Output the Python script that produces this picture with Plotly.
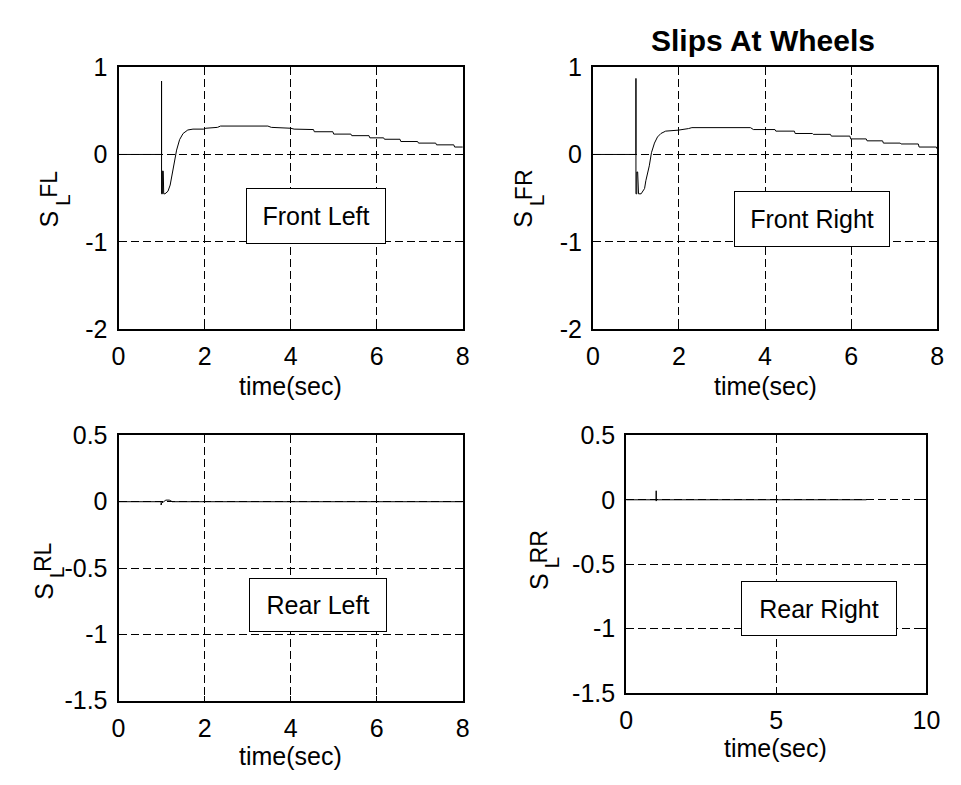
import plotly.graph_objects as go

W, H = 961, 785

# ---- data -------------------------------------------------------------
t_fl = [0, 1.0, 1.0, 1.0, 1.02, 1.02, 1.04, 1.05, 1.08, 1.15, 1.20, 1.25, 1.30,
        1.35, 1.42, 1.50, 1.61, 1.73, 1.98, 2.03, 2.30, 2.37, 3.47, 3.55, 4.00,
        4.08, 4.53, 4.55, 4.98, 5.00, 5.40, 5.42, 5.82, 5.84, 6.16, 6.18, 6.54,
        6.56, 6.95, 6.97, 7.37, 7.39, 7.79, 7.81, 8.0]
s_fl = [0, 0, 0.84, -0.45, -0.45, -0.19, -0.19, -0.45, -0.45, -0.42, -0.35, -0.20, -0.06,
        0.05, 0.17, 0.24, 0.28, 0.29, 0.29, 0.30, 0.31, 0.325, 0.325, 0.31, 0.30,
        0.29, 0.285, 0.26, 0.26, 0.233, 0.233, 0.215, 0.215, 0.19, 0.19, 0.174, 0.174,
        0.148, 0.148, 0.13, 0.13, 0.11, 0.11, 0.085, 0.085]

t_fr = [0, 1.0, 1.0, 1.0, 1.02, 1.02, 1.04, 1.06, 1.12, 1.20, 1.23, 1.31, 1.36,
        1.43, 1.50, 1.58, 1.69, 1.98, 2.22, 2.30, 3.66, 3.73, 4.23, 4.25, 4.68,
        4.70, 5.10, 5.12, 5.52, 5.54, 5.97, 5.99, 6.35, 6.37, 6.73, 6.75, 7.14,
        7.16, 7.56, 7.58, 7.98, 8.0]
s_fr = [0, 0, 0.87, -0.45, -0.45, -0.2, -0.2, -0.45, -0.45, -0.39, -0.30, -0.13, 0.02,
        0.13, 0.20, 0.24, 0.267, 0.278, 0.296, 0.307, 0.307, 0.285, 0.285, 0.267, 0.267,
        0.24, 0.24, 0.23, 0.23, 0.21, 0.21, 0.178, 0.178, 0.156, 0.156, 0.13, 0.13,
        0.12, 0.12, 0.085, 0.085, 0.063]

t_rl = [0, 0.99, 0.99, 1.0, 1.05, 1.10, 1.18, 1.25, 8.0]
s_rl = [0, 0, -0.025, -0.01, 0.0, 0.012, 0.012, 0.0, 0.0]

t_rr = [0, 1.0, 1.0, 1.0, 1.01, 8.0]
s_rr = [0, 0, 0.07, -0.01, 0, 0]

# tick positions / labels
xt_8 = [0, 2, 4, 6, 8]
xt_8_lbl = ["0", "2", "4", "6", "8"]
xt_10 = [0, 5, 10]
xt_10_lbl = ["0", "5", "10"]
yt_top = [-2, -1, 0, 1]
yt_top_lbl = ["-2", "-1", "0", "1"]
yt_bot = [-1.5, -1, -0.5, 0, 0.5]
yt_bot_lbl = ["-1.5", "-1", "-0.5", "0", "0.5"]

FONT = "Liberation Sans, Arial, Helvetica, sans-serif"
FS = 25


def fx(p):
    return p / W


def fy(p):
    return 1 - p / H


def axis_style(rng, vals, labels, domain, anchor):
    return dict(
        range=rng, domain=domain, anchor=anchor,
        tickvals=vals, ticktext=labels,
        showline=True, linecolor="black", linewidth=2, mirror="ticks",
        ticks="inside", ticklen=5, tickcolor="black", tickwidth=1,
        showgrid=True, gridcolor="black", gridwidth=1, griddash="8px,4px",
        zeroline=False, tickfont=dict(family=FONT, size=FS, color="black"),
        ticklabelstandoff=4, fixedrange=True,
    )


fig = go.Figure()
line = dict(color="black", width=1)
fig.add_trace(go.Scatter(x=t_fl, y=s_fl, mode="lines", line=line, xaxis="x", yaxis="y"))
fig.add_trace(go.Scatter(x=t_fr, y=s_fr, mode="lines", line=line, xaxis="x2", yaxis="y2"))
fig.add_trace(go.Scatter(x=t_rl, y=s_rl, mode="lines", line=line, xaxis="x3", yaxis="y3"))
fig.add_trace(go.Scatter(x=t_rr, y=s_rr, mode="lines", line=line, xaxis="x4", yaxis="y4"))

# axes boxes (pixel positions converted to paper fractions)
top_y = [fy(327), fy(55)]
bot_y_l = [fy(712), fy(437)]
bot_y_r = [fy(704), fy(437)]
left_x = [fx(114), fx(466)]
right_x = [fx(599), fx(951)]
br_x = [fx(633), fx(940)]

fig.update_layout(
    width=W, height=H, autosize=False,
    margin=dict(l=0, r=0, t=0, b=0),
    paper_bgcolor="white", plot_bgcolor="white",
    showlegend=False,
    font=dict(family=FONT, size=FS, color="black"),
    xaxis=axis_style([0, 8], xt_8, xt_8_lbl, left_x, "y"),
    yaxis=axis_style([-2, 1], yt_top, yt_top_lbl, top_y, "x"),
    xaxis2=axis_style([0, 8], xt_8, xt_8_lbl, right_x, "y2"),
    yaxis2=axis_style([-2, 1], yt_top, yt_top_lbl, top_y, "x2"),
    xaxis3=axis_style([0, 8], xt_8, xt_8_lbl, left_x, "y3"),
    yaxis3=axis_style([-1.5, 0.5], yt_bot, yt_bot_lbl, bot_y_l, "x3"),
    xaxis4=axis_style([0, 10], xt_10, xt_10_lbl, br_x, "y4"),
    yaxis4=axis_style([-1.5, 0.5], yt_bot, yt_bot_lbl, bot_y_r, "x4"),
)

ann = []


def text(x, y, s, size=FS, **kw):
    d = dict(x=fx(x), y=fy(y), xref="paper", yref="paper", text=s, showarrow=False,
             xanchor="center", yanchor="middle",
             font=dict(family=FONT, size=size, color="black"))
    d.update(kw)
    ann.append(d)


def ylabel(x, y, sup):
    # S with subscript L and a raised wheel tag, written bottom-to-top
    text(x, y + 21, "S", textangle=-90)
    text(x + 13, y + 1, "L", size=21, textangle=-90)
    text(x, y - 15, sup, size=23, textangle=-90)


# title
text(773, 27, "<b>Slips At Wheels</b>", size=30)

# x labels
text(290, 386, "time(sec)")
text(775, 386, "time(sec)")
text(290, 769, "time(sec)")
text(786, 761, "time(sec)")

# y labels
ylabel(43, 192, "FL")
ylabel(528, 192, "FR")
ylabel(37, 578, "RL")
ylabel(544, 568, "RR")

# labelled boxes
box = dict(bordercolor="black", borderwidth=1, bgcolor="white", borderpad=0, align="center")
text(316, 209, "Front Left", width=138, height=54, **box)
text(823, 213, "Front Right", width=154, height=54, **box)
text(318, 613, "Rear Left", width=136, height=52, **box)
text(830, 617, "Rear Right", width=154, height=53, **box)

fig.update_layout(annotations=ann)

fig.write_html(
    "out.html",
    config={"displayModeBar": False},
    post_script="document.body.style.margin='0';document.body.style.padding='0';",
)
